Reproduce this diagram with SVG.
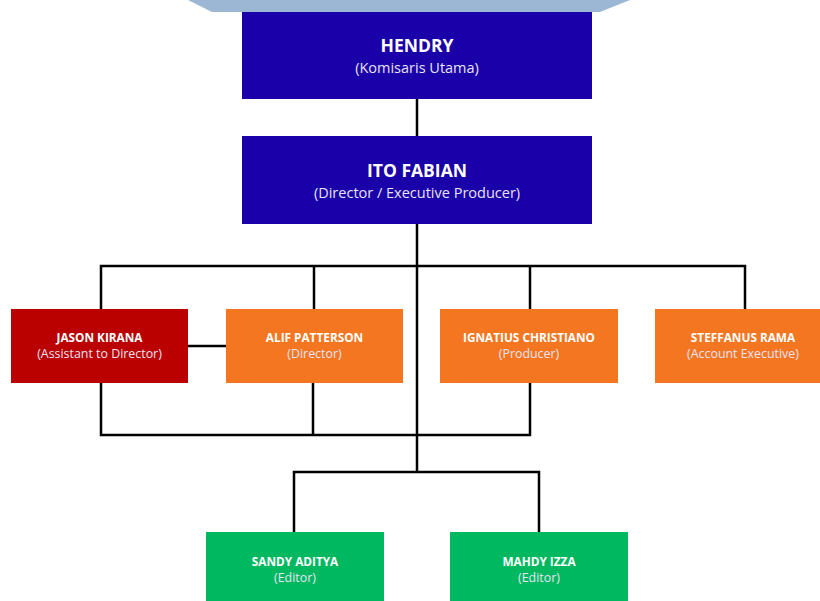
<svg xmlns="http://www.w3.org/2000/svg" width="820" height="601" viewBox="0 0 820 601">
<style>
.name{font-family:"Open Sans","Noto Sans",sans-serif;font-weight:bold;fill:#fff;text-anchor:middle}
.role{font-family:"Open Sans","Noto Sans",sans-serif;fill:#e8e4f4;text-anchor:middle}
.big .name{font-size:17.5px}
.big .role{font-size:14.5px}
.small .name{font-size:11.8px}
.small .role{font-size:12.4px}
.blue{fill:#1a00a8}
.red{fill:#bb0000}
.orange{fill:#f57621}
.green{fill:#00b860}
.ln{stroke:#000;stroke-width:2.5;fill:none}
</style>
<rect width="820" height="601" fill="#fff"/>
<polygon points="188,0 630,0 600,12 212,12" fill="#9bb7d4"/>
<g id="connectors">
<line class="ln" x1="417" y1="99" x2="417" y2="136"/>
<line class="ln" x1="417" y1="224" x2="417" y2="473"/>
<polyline class="ln" points="101,309 101,266 745,266 745,309"/>
<line class="ln" x1="314" y1="266" x2="314" y2="309"/>
<line class="ln" x1="530" y1="266" x2="530" y2="309"/>
<line class="ln" x1="188" y1="346" x2="226" y2="346"/>
<polyline class="ln" points="101,383 101,435 530,435 530,383"/>
<line class="ln" x1="313" y1="383" x2="313" y2="435"/>
<polyline class="ln" points="294,533 294,472 539,472 539,533"/>
</g>
<g id="hendry" class="big">
<rect class="blue" x="242" y="12" width="350" height="87"/>
<text class="name" x="417" y="52">HENDRY</text>
<text class="role" x="417" y="73">(Komisaris Utama)</text>
</g>
<g id="ito" class="big">
<rect class="blue" x="242" y="136" width="350" height="88"/>
<text class="name" x="417" y="177">ITO FABIAN</text>
<text class="role" x="417" y="198">(Director / Executive Producer)</text>
</g>
<g id="jason" class="small">
<rect class="red" x="11" y="309" width="177" height="74"/>
<text class="name" x="99.5" y="342">JASON KIRANA</text>
<text class="role" x="99.5" y="358">(Assistant to Director)</text>
</g>
<g id="alif" class="small">
<rect class="orange" x="226" y="309" width="177" height="74"/>
<text class="name" x="314.5" y="342">ALIF PATTERSON</text>
<text class="role" x="314.5" y="358">(Director)</text>
</g>
<g id="ignatius" class="small">
<rect class="orange" x="440" y="309" width="178" height="74"/>
<text class="name" x="529" y="342">IGNATIUS CHRISTIANO</text>
<text class="role" x="529" y="358">(Producer)</text>
</g>
<g id="steffanus" class="small">
<rect class="orange" x="655" y="309" width="165" height="74"/>
<text class="name" x="743" y="342">STEFFANUS RAMA</text>
<text class="role" x="743" y="358">(Account Executive)</text>
</g>
<g id="sandy" class="small">
<rect class="green" x="206" y="532" width="178" height="69"/>
<text class="name" x="295" y="566">SANDY ADITYA</text>
<text class="role" x="295" y="582">(Editor)</text>
</g>
<g id="mahdy" class="small">
<rect class="green" x="450" y="532" width="178" height="69"/>
<text class="name" x="539" y="566">MAHDY IZZA</text>
<text class="role" x="539" y="582">(Editor)</text>
</g>
</svg>
